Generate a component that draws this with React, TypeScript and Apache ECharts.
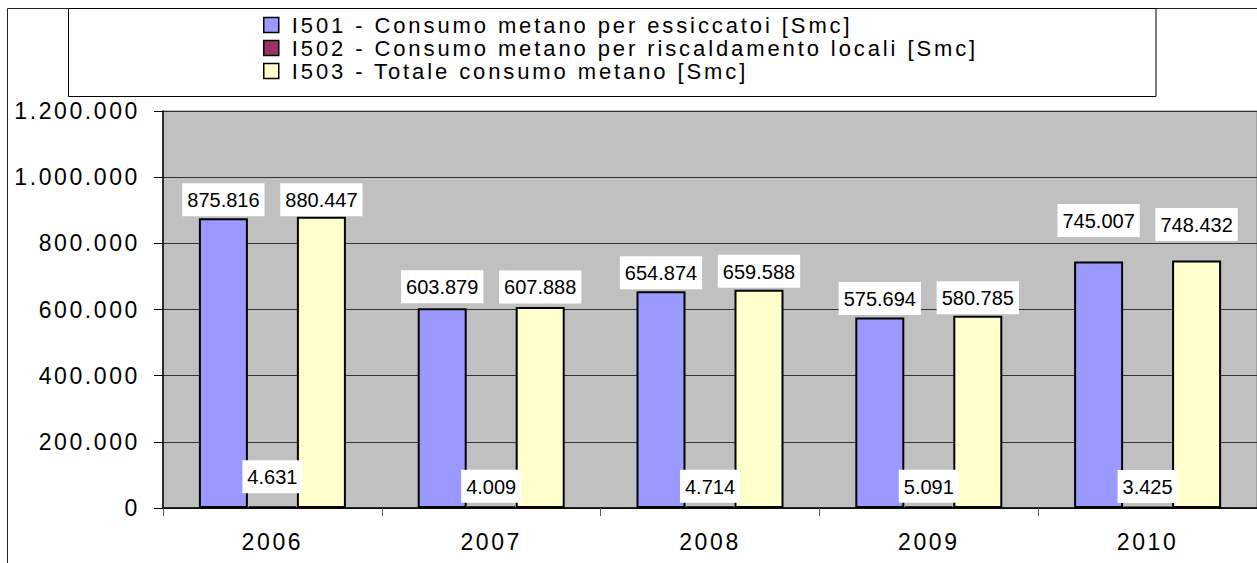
import React, { useEffect, useRef } from "react";
import * as echarts from "echarts";

const categories = ["2006", "2007", "2008", "2009", "2010"];
const seriesNames = [
  "I501 - Consumo metano per essiccatoi [Smc]",
  "I502 - Consumo metano per riscaldamento locali [Smc]",
  "I503 - Totale consumo metano [Smc]",
];
const essiccatoi = [875816, 603879, 654874, 575694, 745007];
const riscaldamento = [4631, 4009, 4714, 5091, 3425];
const totale = [880447, 607888, 659588, 580785, 748432];

// label distances above each bar (style only)
const labelDist1 = [2, 5, 2, 2.5, 24.5];
const labelDist2 = [13, 3.5, 3.5, 3.5, 3.5];
const labelDist3 = [0.5, 3.5, 2, 1.5, 19.5];

const FONT = "Liberation Sans";

function fmt(v: number): string {
  return String(Math.round(v)).replace(/\B(?=(\d{3})+(?!\d))/g, ".");
}

export default function App() {
  const ref = useRef<HTMLDivElement>(null);

  useEffect(() => {
    if (!ref.current) return;
    const chart = echarts.init(ref.current, undefined, { renderer: "svg" });

    const makeSeries = (name: string, values: number[], color: string, dist: number[]) => ({
      name,
      type: "bar",
      barWidth: 49,
      barGap: "0%",
      itemStyle: { color, borderColor: "#000", borderWidth: 2 },
      label: {
        show: true,
        position: "top",
        fontSize: 20,
        fontFamily: FONT,
        color: "#000",
        backgroundColor: "#fff",
        padding: [7, 5, 6, 5],
        formatter: (p: any) => fmt(p.value),
      },
      data: values.map((v, i) => ({ value: v, label: { distance: dist[i] } })),
    });

    chart.setOption({
      animation: false,
      backgroundColor: "#fff",
      textStyle: { fontFamily: FONT },
      graphic: [
        {
          type: "rect",
          z: -10,
          shape: { x: 7.5, y: 8.5, width: 1400, height: 700 },
          style: { fill: "none", stroke: "#222", lineWidth: 1 },
        },
        {
          type: "rect",
          z: -5,
          shape: { x: 68.5, y: 8.5, width: 1087.5, height: 88 },
          style: { fill: "#fff", stroke: "#000", lineWidth: 1 },
        },
      ],
      legend: {
        orient: "vertical",
        left: 263,
        top: 14,
        padding: 0,
        itemWidth: 15,
        itemHeight: 15,
        itemGap: 1,
        icon: "rect",
        itemStyle: { borderColor: "#000", borderWidth: 1.5 },
        textStyle: { fontSize: 22, fontFamily: FONT, color: "#000", padding: [0, 0, 0, 8] },
        data: seriesNames,
      },
      grid: {
        left: 163,
        top: 111,
        bottom: 55,
        right: -6,
        show: true,
        backgroundColor: "#C0C0C0",
        borderColor: "#808080",
        borderWidth: 1,
      },
      xAxis: {
        type: "category",
        data: categories,
        axisLine: { lineStyle: { color: "#000", width: 1.5 } },
        axisTick: { show: true, length: 8, lineStyle: { color: "#555" } },
        axisLabel: { fontSize: 23, fontFamily: FONT, color: "#000", margin: 22 },
      },
      yAxis: {
        type: "value",
        min: 0,
        max: 1200000,
        interval: 200000,
        axisLine: { show: true, lineStyle: { color: "#000", width: 1.5 } },
        axisTick: { show: true, length: 9, lineStyle: { color: "#000" } },
        axisLabel: {
          fontSize: 23,
          fontFamily: FONT,
          color: "#000",
          margin: 23,
          formatter: (v: number) => fmt(v),
        },
        splitLine: { lineStyle: { color: "#333", width: 1 } },
      },
      series: [
        makeSeries(seriesNames[0], essiccatoi, "#9999FF", labelDist1),
        makeSeries(seriesNames[1], riscaldamento, "#993366", labelDist2),
        makeSeries(seriesNames[2], totale, "#FFFFCC", labelDist3),
      ],
    });

    return () => chart.dispose();
  }, []);

  return (
    <>
      <style>{`#chart text[style*="22px"] { letter-spacing: 2.9px; } #chart text[style*="23px"] { letter-spacing: 2.6px; }`}</style>
      <div
        id="chart"
        ref={ref}
        style={{ position: "fixed", left: 0, top: 0, width: 1257, height: 563 }}
      />
    </>
  );
}
